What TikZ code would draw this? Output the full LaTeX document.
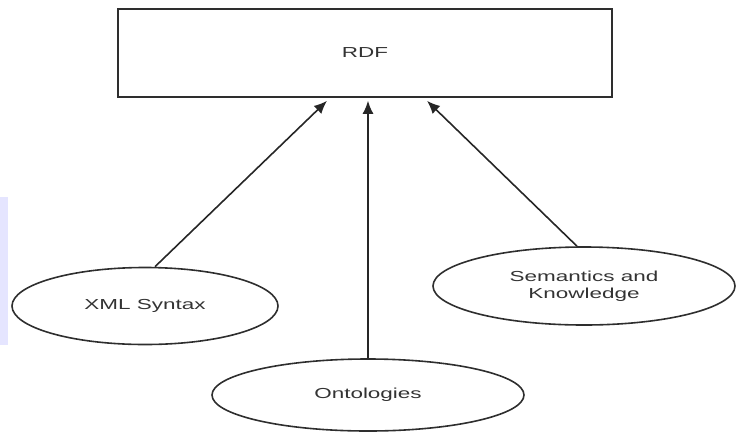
\documentclass[tikz,border=0pt]{standalone}
\usepackage{fontspec}
\setmainfont{Liberation Sans}
\usetikzlibrary{arrows.meta,shapes.geometric}
\newcommand\sxt[1]{\scalebox{1.55}[1]{#1}}
\begin{document}
\begin{tikzpicture}[x=1pt,y=-1pt,
  line/.style={draw=black!82, line width=1.6pt},
  arr/.style={draw=black!85, line width=1.6pt, -{Latex[length=13pt,width=11pt]}},
  lbl/.style={font=\fontsize{14.5}{17}\selectfont, text=black!80, align=center},
  oval/.style={ellipse, line, inner sep=0pt, lbl}
]
\useasboundingbox (0,0) rectangle (737,432);
\fill[blue!10] (0,197) rectangle (8,345);
\node[line, lbl, minimum width=494pt, minimum height=88pt] (rdf) at (365,53) {\raisebox{-8pt}{\sxt{RDF}}};
\node[oval, minimum width=266pt, minimum height=77pt] (xml) at (145,306) {\raisebox{-7pt}{\sxt{XML Syntax}}};
\node[oval, minimum width=312pt, minimum height=72pt] (onto) at (368,395) {\raisebox{-3pt}{\sxt{Ontologies}}};
\node[oval, minimum width=302pt, minimum height=78pt] (sem) at (584,286) {\sxt{Semantics and}\\\sxt{Knowledge}};
\draw[arr] ([xshift=10pt]xml.north) -- ([xshift=-38pt,yshift=-3pt]rdf.south);
\draw[arr] (onto.north) -- ([xshift=3pt,yshift=-3pt]rdf.south);
\draw[arr] ([xshift=-7pt]sem.north) -- ([xshift=62pt,yshift=-3pt]rdf.south);
\end{tikzpicture}
\end{document}
